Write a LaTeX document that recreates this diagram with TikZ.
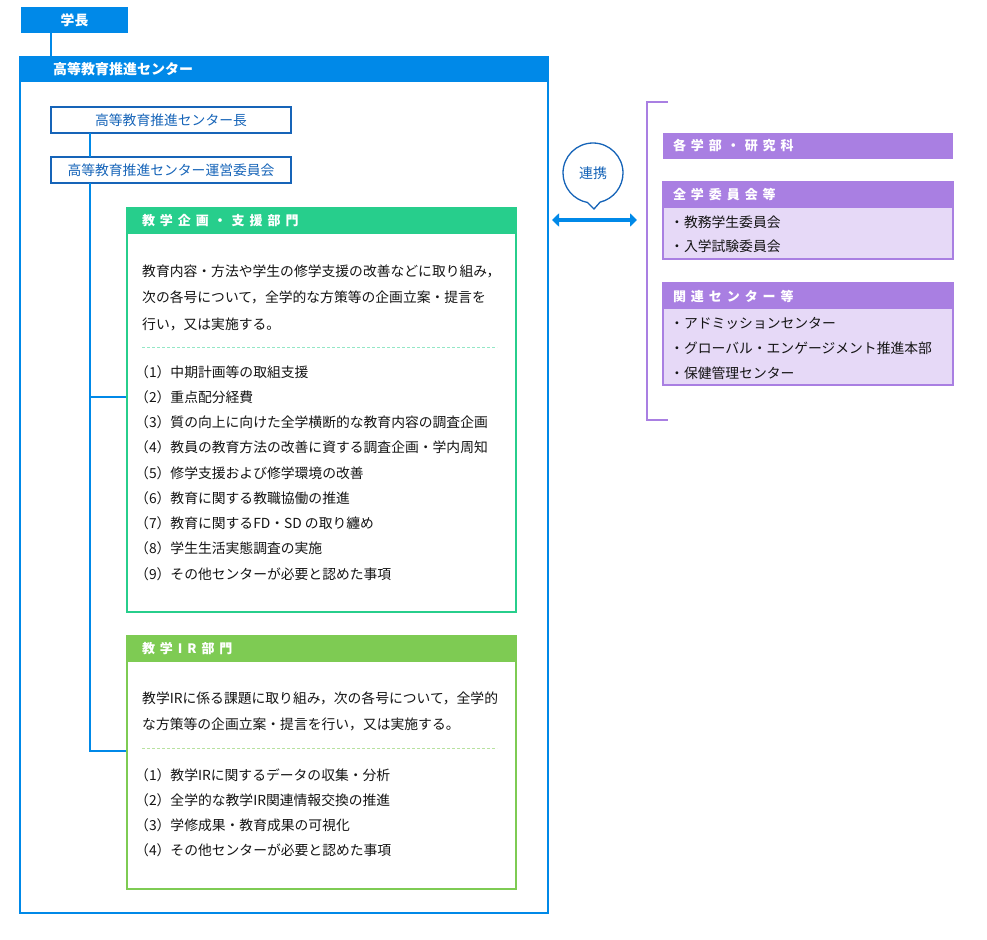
\documentclass[tikz,border=0pt]{standalone}
\usepackage{fontspec}
\setmainfont{Noto Sans CJK JP}
\newfontfamily\spacedfont[LetterSpace=38]{Noto Sans CJK JP}
\usetikzlibrary{arrows.meta,shapes.callouts}

\definecolor{cblue}{RGB}{0,137,232}
\definecolor{cdark}{RGB}{22,100,184}
\definecolor{cgreen}{RGB}{39,206,140}
\definecolor{clime}{RGB}{126,203,83}
\definecolor{cpurple}{RGB}{169,127,226}
\definecolor{clilac}{RGB}{230,217,247}
\definecolor{cink}{RGB}{20,20,20}

\begin{document}
\begin{tikzpicture}[x=1pt, y=-1pt,
  frame/.style={anchor=north west, inner sep=0pt, outer sep=0pt},
  band/.style={anchor=north west, inner ysep=0pt, outer sep=0pt, minimum height=26pt, align=left, text=white},
  hdfont/.style={font=\spacedfont\bfseries\fontsize{13}{13}\selectfont},
  plainbox/.style={frame, draw=cdark, line width=2.2pt, minimum width=240pt, minimum height=26pt, text=cdark, font=\fontsize{13.8}{14}\selectfont},
  body/.style={anchor=base west, inner sep=0pt, text=cink, font=\fontsize{13.8}{14}\selectfont},
  tree/.style={cblue, line width=2.8pt},
  dashrule/.style={line width=1pt, dash pattern=on 3pt off 2pt},
  link/.style={cblue, line width=4pt, {Triangle[length=7pt,width=13pt]}-{Triangle[length=7pt,width=13pt]}},
  bubble/.style={ellipse callout, draw=cdark, line width=1.3pt, fill=white, minimum width=60pt, minimum height=60pt, inner sep=0pt, callout pointer arc=24, text=cdark, font=\fontsize{14}{14}\selectfont}
]
  \useasboundingbox (0,0) rectangle (987,939);

  % President and the centre
  \node[band, fill=cblue, align=center, minimum width=107pt, font=\bfseries\fontsize{13.8}{14}\selectfont] (chief) at (21,7) {学長};
  \node[frame, draw=cblue, line width=2.8pt, minimum width=528pt, minimum height=856pt] (center) at (20,57) {};
  \node[band, fill=cblue, minimum height=25pt, inner xsep=33pt, text width=462pt, font=\bfseries\fontsize{14}{14}\selectfont] (centerhd) at (20,57) {高等教育推進センター};
  \coordinate (drop) at (51,0);
  \draw[tree] (chief.south -| drop) -- (center.north -| drop);

  % Director and committee
  \node[plainbox] (head) at (51,107) {高等教育推進センター長};
  \node[plainbox] (committee) at (51,157) {高等教育推進センター運営委員会};
  \coordinate (trunk) at (90,0);
  \coordinate (planin) at (127,397);
  \coordinate (irin) at (127,751);
  \draw[tree, line width=2.2pt] (head.south -| trunk) -- (committee.north -| trunk);
  \draw[tree] (committee.south -| trunk) -- (irin -| trunk) -- (irin);
  \draw[tree] (planin -| trunk) -- (planin);

  % Planning and support division
  \node[frame, draw=cgreen, line width=2.8pt, fill=white, minimum width=389pt, minimum height=404pt] (plan) at (127,208) {};
  \node[band, fill=cgreen, hdfont, inner xsep=15pt, text width=359pt] (planhd) at (127,208) {教学企画・支援部門};
  \foreach \t [count=\i from 0] in {教育内容・方法や学生の修学支援の改善などに取り組み，,
    次の各号について，全学的な方策等の企画立案・提言を,
    行い，又は実施する。}
    \node[body] (plantx\i) at (142,{276+26.5*\i}) {\t};
  \draw[dashrule, cgreen!50] (142,347) -- (497,347);
  \foreach \t [count=\i] in {中期計画等の取組支援,
    重点配分経費,
    質の向上に向けた全学横断的な教育内容の調査企画,
    教員の教育方法の改善に資する調査企画・学内周知,
    修学支援および修学環境の改善,
    教育に関する教職協働の推進,
    教育に関するFD・SD の取り纏め,
    学生生活実態調査の実施,
    その他センターが必要と認めた事項}
    \node[body] (planit\i) at (135,{377+25.25*(\i-1)}) {（\i）\t};

  % IR division
  \node[frame, draw=clime, line width=2.8pt, fill=white, minimum width=389pt, minimum height=253pt] (ir) at (127,636) {};
  \node[band, fill=clime, hdfont, inner xsep=15pt, text width=359pt] (irhd) at (127,636) {教学IR部門};
  \foreach \t [count=\i from 0] in {教学IRに係る課題に取り組み，次の各号について，全学的,
    な方策等の企画立案・提言を行い，又は実施する。}
    \node[body] (irtx\i) at (142,{703+26*\i}) {\t};
  \draw[dashrule, clime!55] (142,748) -- (497,748);
  \foreach \t [count=\i] in {教学IRに関するデータの収集・分析,
    全学的な教学IR関連情報交換の推進,
    学修成果・教育成果の可視化,
    その他センターが必要と認めた事項}
    \node[body] (irit\i) at (135,{780+25.3*(\i-1)}) {（\i）\t};

  % Cooperation
  \node[bubble, callout absolute pointer={(594,209)}] (coop) at (593,173) {連携};
  \coordinate (linkL) at (552,220);
  \coordinate (linkR) at (637,220);
  \draw[link] (linkL) -- (linkR);

  % Partners
  \draw[cpurple, line width=1.6pt] (668,102) -- (647,102) -- (647,420) -- (668,420);
  \node[band, fill=cpurple, hdfont, inner xsep=10pt, text width=270pt] (faculty) at (663,133) {各学部・研究科};

  \node[frame, draw=cpurple, fill=clilac, line width=2.2pt, minimum width=290pt, minimum height=77pt] (council) at (663,182) {};
  \node[band, fill=cpurple, hdfont, inner xsep=10pt, text width=270pt] (councilhd) at (663,182) {全学委員会等};
  \foreach \t [count=\i from 0] in {教務学生委員会, 入学試験委員会}
    \node[body] (councilit\i) at (670,{227+24.5*\i}) {・\t};

  \node[frame, draw=cpurple, fill=clilac, line width=2.2pt, minimum width=290pt, minimum height=102pt] (related) at (663,283) {};
  \node[band, fill=cpurple, hdfont, inner xsep=10pt, text width=270pt] (relatedhd) at (663,283) {関連センター等};
  \foreach \t [count=\i from 0] in {アドミッションセンター,
    グローバル・エンゲージメント推進本部,
    保健管理センター}
    \node[body] (relatedit\i) at (670,{328+25*\i}) {・\t};
\end{tikzpicture}
\end{document}
